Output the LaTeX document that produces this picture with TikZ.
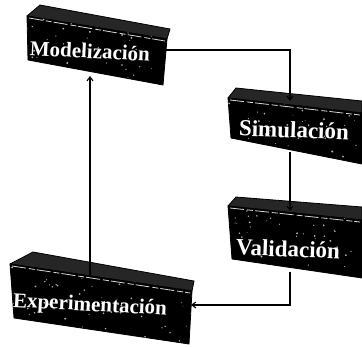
\documentclass[tikz,border=0pt]{standalone}
\usepackage{fontspec}
\setmainfont{Liberation Serif}
\usetikzlibrary{arrows.meta}
\tikzset{
  front/.style={fill=black,draw=black,line width=0.8pt,line join=round},
  topface/.style={fill=black!85,draw=black,line width=0.8pt,line join=round},
  ridge/.style={draw=white!85!black,line width=0.8pt,dash pattern=on 14pt off 3pt on 6pt off 2pt},
  label/.style={text=white,font=\bfseries\fontsize{#1}{#1}\selectfont,inner sep=0pt},
  label/.default=21,
  link/.style={draw=black,line width=1.1pt},
  arr/.style={link,-{Straight Barb[length=4pt,width=6pt]}},
}
% speckle texture clipped to a face
\newcommand{\speckle}[5]{%
  \begin{scope}
    \clip #1;
    \foreach \k in {1,...,#2}{
      \pgfmathsetmacro{\px}{#3+rnd*(#4-#3)}
      \pgfmathsetmacro{\py}{#5-60+rnd*120}
      \pgfmathsetmacro{\pr}{0.4+rnd*0.7}
      \fill[white!70!black] (\px,\py) circle (\pr);
    }
  \end{scope}}
\begin{document}
\begin{tikzpicture}[x=1pt,y=-1pt]
\pgfmathsetseed{7}
\useasboundingbox (0,0) rectangle (362,347);
\fill[white] (0,0) rectangle (362,347);

% Modelizacion slab
\path[topface] (27,16) -- (40,5) -- (170,29) -- (167,39) -- cycle;
\path[front] (27,16) -- (167,39) -- (163,85) -- (28,60) -- cycle;
\speckle{(27,16) -- (167,39) -- (163,85) -- (28,60) -- cycle}{90}{27}{167}{50}
\draw[ridge] (29,18) -- (165,41);
\node[label,rotate=-3] (mod) at (90,51) {Modelización};

% Simulacion slab
\path[topface] (228,98) -- (236,88) -- (362,101) -- (362,113) -- cycle;
\path[front] (228,98) -- (362,113) -- (362,164) -- (231,138) -- cycle;
\speckle{(228,98) -- (362,113) -- (362,164) -- (231,138) -- cycle}{85}{228}{362}{130}
\draw[ridge] (230,100) -- (360,115);
\node[label=23,rotate=-2] (sim) at (294,130) {Simulación};

% Validacion slab
\path[topface] (228,206) -- (236,197) -- (362,207) -- (362,220) -- cycle;
\path[front] (228,206) -- (362,220) -- (362,278) -- (232,259) -- cycle;
\speckle{(228,206) -- (362,220) -- (362,278) -- (232,259) -- cycle}{85}{228}{362}{240}
\draw[ridge] (230,208) -- (360,222);
\node[label=23,rotate=-2] (val) at (288,249) {Validación};

% Experimentacion slab
\path[topface] (10,264) -- (33,252) -- (194,281) -- (192,291) -- cycle;
\path[front] (10,264) -- (192,291) -- (189,344) -- (14,318) -- cycle;
\speckle{(10,264) -- (192,291) -- (189,344) -- (14,318) -- cycle}{120}{10}{192}{300}
\draw[ridge] (12,266) -- (190,293);
\node[label,rotate=-3] (exp) at (90,306) {Experimentación};

% connection points on the slabs
\coordinate (modR) at (164,50);
\coordinate (modB) at (90,76);
\coordinate (simT) at (290,101);
\coordinate (simB) at (290,152);
\coordinate (valT) at (290,211);
\coordinate (valB) at (290,272);
\coordinate (expR) at (191,305);
\coordinate (expT) at (90,275);

% cycle of connectors
\draw[arr] (modR) -| (simT);
\draw[arr] (simB) -- (valT);
\draw[arr] (valB) |- (expR);
\draw[arr] (expT) -- (modB);
\end{tikzpicture}
\end{document}
